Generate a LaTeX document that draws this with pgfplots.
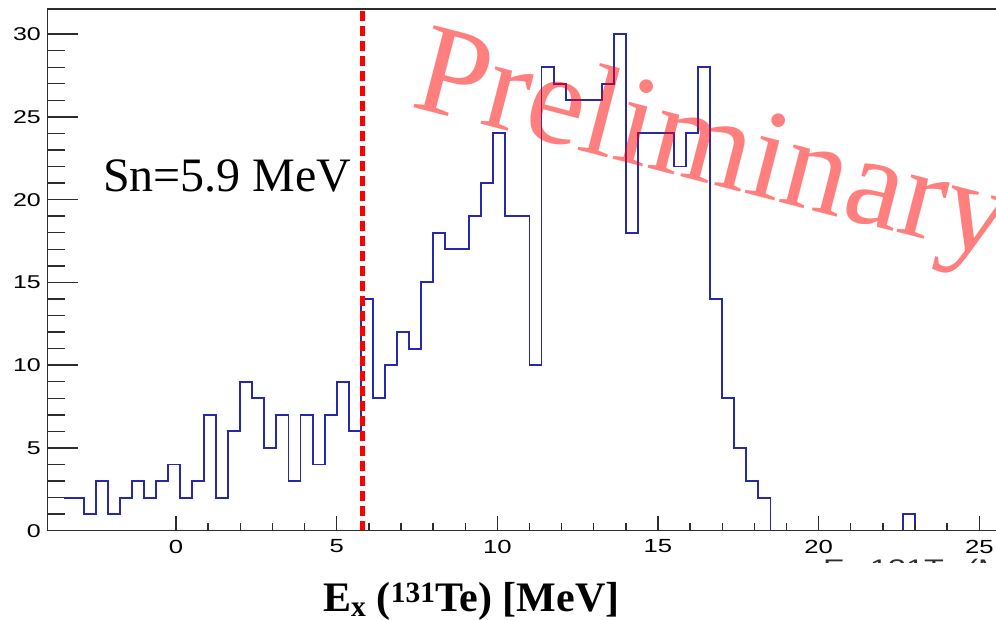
\documentclass[border=0pt]{standalone}
\usepackage{pgfplots}
\pgfplotsset{compat=1.18}
\usepackage{fontspec}
\setmainfont{Liberation Serif}
\newfontfamily\tickfont[FakeStretch=1.35]{Liberation Sans}

\definecolor{histblue}{RGB}{40,40,170}
\definecolor{axisgray}{RGB}{45,45,45}

% shared frame geometry (1pt per pixel)
\pgfplotsset{
  frame/.style={
    scale only axis, width=954.3pt, height=521.4pt,
    xmin=-4, xmax=25.7, ymin=0, ymax=31.5,
    at={(47.5pt,89.3pt)}, anchor=south west,
    axis line style={axisgray, line width=1.6pt},
    tick style={axisgray, line width=1.4pt},
    /pgf/number format/assume math mode=true,
  }
}

\begin{document}
\begin{tikzpicture}[x=1pt,y=1pt]
\useasboundingbox (0,0) rectangle (996,620);
\clip (0,0) rectangle (996,620);

% histogram, x ticks and frame
\begin{axis}[frame,
  tick align=inside,
  xtick={0,5,...,25}, minor x tick num=4, xtick pos=bottom,
  ytick=\empty,
  major tick length=15pt, minor tick length=8pt,
  xticklabel style={font=\tickfont\fontsize{19}{20}\selectfont, inner sep=0pt, anchor=north, yshift=-9pt},
  axis on top]
\addplot[const plot, histblue, line width=1.9pt] coordinates {
  (-3.5,2) (-2.875,1) (-2.5,3) (-2.125,1) (-1.75,2) (-1.375,3) (-1.0,2) (-0.625,3)
  (-0.25,4) (0.125,2) (0.5,3) (0.875,7) (1.25,2) (1.625,6) (2.0,9) (2.375,8)
  (2.75,5) (3.125,7) (3.5,3) (3.875,7) (4.25,4) (4.625,7) (5.0,9) (5.375,6)
  (5.75,14) (6.125,8) (6.5,10) (6.875,12) (7.25,11) (7.625,15) (8.0,18) (8.375,17)
  (8.75,17) (9.125,19) (9.5,21) (9.875,24) (10.25,19) (10.625,19) (11.0,10) (11.375,28)
  (11.75,27) (12.125,26) (12.5,26) (12.875,26) (13.25,27) (13.625,30) (14.0,18) (14.375,24)
  (14.75,24) (15.125,24) (15.5,22) (15.875,24) (16.25,28) (16.625,14) (17.0,8) (17.375,5)
  (17.75,3) (18.125,2) (18.5,0) (22.625,1) (23.0,0) (25.7,0)
};
% neutron separation energy
\addplot[red, line width=4.3pt, dash pattern=on 9.5pt off 5.5pt] coordinates {(5.8,0) (5.8,31.5)};
\end{axis}

% y ticks (longer tick marks)
\begin{axis}[frame,
  hide x axis, axis y line*=left,
  tick align=inside,
  ytick={0,5,...,30}, minor y tick num=4,
  major tick length=30pt, minor tick length=17pt,
  yticklabel style={font=\tickfont\fontsize{18.5}{20}\selectfont, inner sep=0pt, anchor=east, xshift=-6.5pt}]
\end{axis}

% leftover axis title, partly hidden
\node[anchor=base west, inner sep=0pt, text=axisgray, font=\tickfont\fontsize{24}{24}\selectfont] at (823,43) {Ex 131Te (MeV)};
\fill[white] (780,0) rectangle (996,57);

\node[anchor=base west, inner sep=0pt, font=\fontsize{48}{50}\selectfont] at (103,428) {Sn=5.9 MeV};

\node[anchor=base west, inner sep=0pt, font=\bfseries\fontsize{42}{42}\selectfont] at (323,8) {E\textsubscript{x} (\textsuperscript{131}Te) [MeV]};

\node[anchor=base west, inner sep=0pt, rotate=-14.5, text=red, text opacity=0.5, font=\fontsize{129}{129}\selectfont] at (409,514) {Preliminary};
\end{tikzpicture}
\end{document}
